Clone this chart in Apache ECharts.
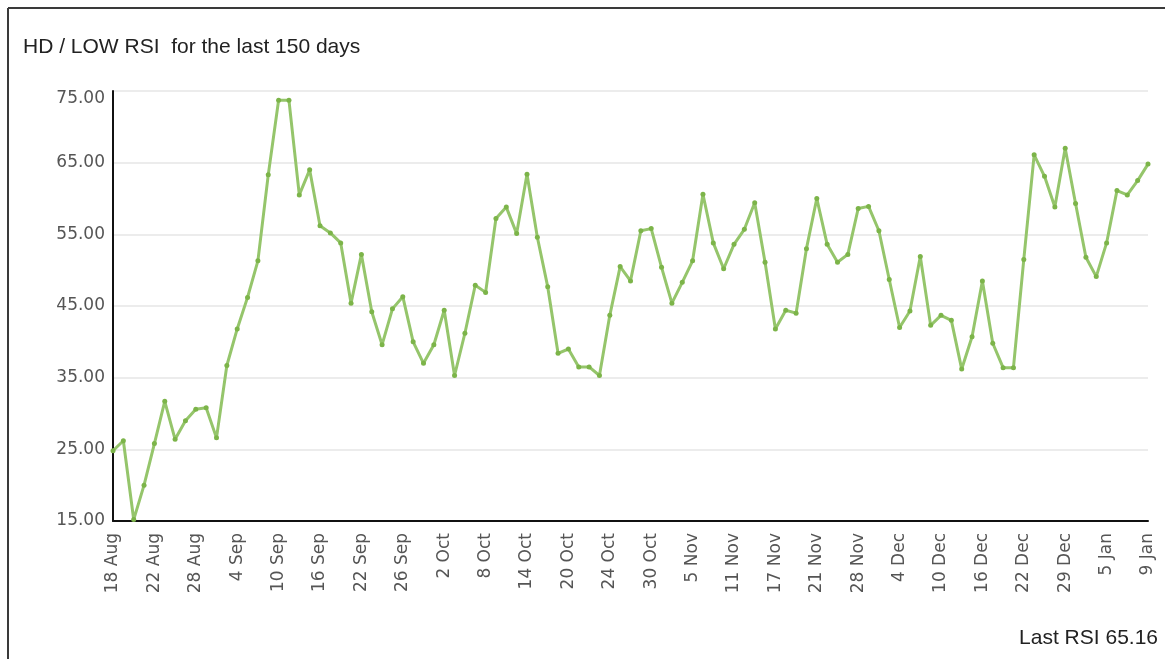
<!DOCTYPE html>
<html>
<head>
<meta charset="utf-8">
<title>HD / LOW RSI</title>
<script src="https://cdn.jsdelivr.net/npm/echarts@6/dist/echarts.min.js"></script>
<style>
  html, body { margin: 0; padding: 0; background: #fff; }
  #c1 { width: 1165px; height: 659px; }
</style>
</head>
<body>
<div id="c1"></div>
<script>
// trading days, 18 Aug -> 9 Jan
const days = [
  '18 Aug', '19 Aug', '20 Aug', '21 Aug', '22 Aug', '25 Aug', '26 Aug', '27 Aug', '28 Aug', '29 Aug',
  '2 Sep', '3 Sep', '4 Sep', '5 Sep', '8 Sep', '9 Sep', '10 Sep', '11 Sep', '12 Sep', '15 Sep',
  '16 Sep', '17 Sep', '18 Sep', '19 Sep', '22 Sep', '23 Sep', '24 Sep', '25 Sep', '26 Sep', '29 Sep',
  '30 Sep', '1 Oct', '2 Oct', '3 Oct', '6 Oct', '7 Oct', '8 Oct', '9 Oct', '10 Oct', '13 Oct',
  '14 Oct', '15 Oct', '16 Oct', '17 Oct', '20 Oct', '21 Oct', '22 Oct', '23 Oct', '24 Oct', '27 Oct',
  '28 Oct', '29 Oct', '30 Oct', '31 Oct', '3 Nov', '4 Nov', '5 Nov', '6 Nov', '7 Nov', '10 Nov',
  '11 Nov', '12 Nov', '13 Nov', '14 Nov', '17 Nov', '18 Nov', '19 Nov', '20 Nov', '21 Nov', '24 Nov',
  '25 Nov', '26 Nov', '28 Nov', '1 Dec', '2 Dec', '3 Dec', '4 Dec', '5 Dec', '8 Dec', '9 Dec',
  '10 Dec', '11 Dec', '12 Dec', '15 Dec', '16 Dec', '17 Dec', '18 Dec', '19 Dec', '22 Dec', '23 Dec',
  '24 Dec', '26 Dec', '29 Dec', '30 Dec', '31 Dec', '2 Jan', '5 Jan', '6 Jan', '7 Jan', '8 Jan',
  '9 Jan'
]

const rsi = [
  24.8, 26.2, 15.2, 20.0, 25.8, 31.7, 26.4, 29.0, 30.6, 30.8,
  26.6, 36.7, 41.8, 46.2, 51.3, 63.3, 73.7, 73.7, 60.5, 64.0,
  56.2, 55.2, 53.8, 45.4, 52.2, 44.2, 39.6, 44.6, 46.3, 40.0,
  37.0, 39.6, 44.4, 35.3, 41.2, 47.9, 46.9, 57.2, 58.8, 55.1,
  63.4, 54.6, 47.7, 38.4, 39.0, 36.5, 36.5, 35.3, 43.7, 50.5,
  48.5, 55.5, 55.8, 50.4, 45.4, 48.3, 51.3, 60.6, 53.8, 50.2,
  53.6, 55.7, 59.4, 51.1, 41.8, 44.4, 44.0, 53.0, 60.0, 53.6,
  51.1, 52.2, 58.6, 58.9, 55.5, 48.7, 42.0, 44.3, 51.9, 42.3,
  43.7, 43.0, 36.2, 40.7, 48.5, 39.8, 36.4, 36.4, 51.5, 66.1,
  63.1, 58.8, 67.0, 59.3, 51.8, 49.1, 53.8, 61.1, 60.5, 62.5,
  64.8
]

const titleText = 'HD / LOW RSI  for the last 150 days'
const lastText = 'Last RSI 65.16'

const myChart = echarts.init(document.getElementById('c1'))
var option = {
  animation: false,
  title: [
    {
      text: titleText,
      left: 18,
      top: 32,
      textStyle: { fontFamily: 'Liberation Sans', fontSize: 21, fontWeight: 'normal', color: '#222' }
    },
    {
      text: lastText,
      right: 2,
      top: 623,
      textStyle: { fontFamily: 'Liberation Sans', fontSize: 21, fontWeight: 'normal', color: '#222' }
    }
  ],
  graphic: [
    { type: 'line', shape: { x1: 8, y1: 8, x2: 1165, y2: 8 }, style: { stroke: '#3a3a3a', lineWidth: 2 } },
    { type: 'line', shape: { x1: 8, y1: 8, x2: 8, y2: 659 }, style: { stroke: '#3a3a3a', lineWidth: 2 } }
  ],
  grid: {
    left: 113,
    right: 17,
    top: 91,
    bottom: 138
  },
  xAxis: {
    type: 'category',
    data: days,
    boundaryGap: false,
    axisLine: { lineStyle: { color: '#111', width: 2 } },
    axisTick: { show: false },
    axisLabel: {
      interval: 3,
      rotate: 90,
      margin: 12,
      fontFamily: 'DejaVu Sans',
      fontSize: 17,
      color: '#555'
    }
  },
  yAxis: {
    type: 'value',
    min: 15,
    max: 75,
    interval: 10,
    axisLine: { show: true, lineStyle: { color: '#111', width: 2 } },
    axisTick: { show: false },
    axisLabel: {
      margin: 8,
      fontFamily: 'DejaVu Sans',
      fontSize: 17,
      color: '#555',
      // top label sits a little below its grid line, as in the original
      formatter: v => v === 75 ? '{top|' + v.toFixed(2) + '}' : v.toFixed(2),
      rich: {
        top: { fontFamily: 'DejaVu Sans', fontSize: 17, color: '#555', padding: [16, 0, 0, 0] }
      }
    },
    splitLine: { lineStyle: { color: '#e6e6e6', width: 1.5 } }
  },
  series: [
    {
      type: 'line',
      data: rsi,
      symbol: 'circle',
      symbolSize: 5,
      showAllSymbol: true,
      lineStyle: { color: '#95c56b', width: 3 },
      itemStyle: { color: '#7cb449' }
    }
  ]
}
option && myChart.setOption(option)
</script>
</body>
</html>
